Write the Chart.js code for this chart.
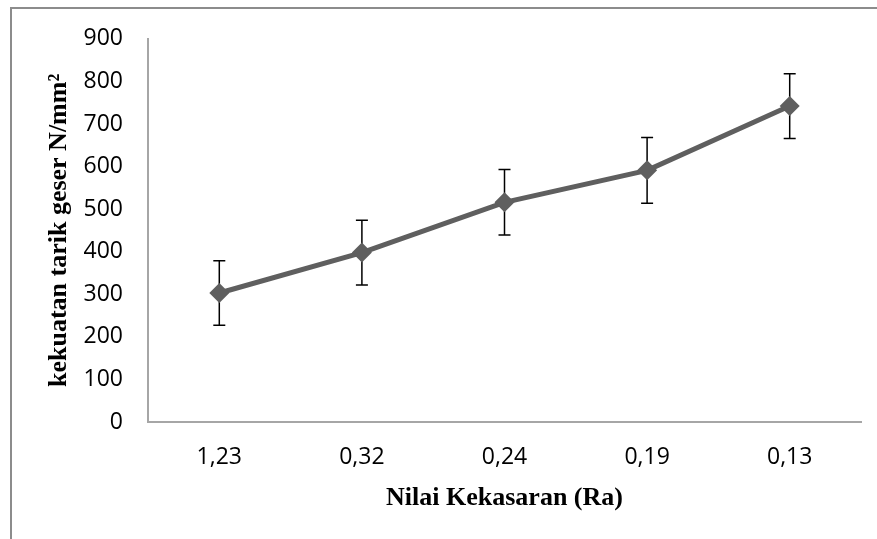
<!DOCTYPE html>
<html>
<head>
<meta charset="utf-8">
<script src="https://cdn.jsdelivr.net/npm/chart.js@4.4.1/dist/chart.umd.min.js"></script>
<style>
    html, body { margin: 0; padding: 0; background: #fff; }
    #wrap { position: relative; width: 877px; height: 539px; overflow: hidden; }
    #frame {
        position: absolute; left: 10px; top: 7px; width: 2000px; height: 2000px;
        border-top: 2px solid #8c8c8c; border-left: 2px solid #8c8c8c;
    }
    canvas { position: absolute; left: 0; top: 0; }
</style>
</head>
<body>
<div id="wrap">
    <div id="frame"></div>
    <canvas id="myChart" width="877" height="539"></canvas>
</div>
<script>
// Dados do gráfico
const kategori = ['1,23', '0,32', '0,24', '0,19', '0,13'];
const kekuatan = [303, 398, 516, 591, 742];
const galat = [76, 76, 77, 77, 76];
const yTicks = [0, 100, 200, 300, 400, 500, 600, 700, 800, 900];

// Plugin para desenhar as barras de erro
const errorBars = {
    id: 'errorBars',
    beforeDatasetsDraw(chart) {
        const ctx = chart.ctx;
        const x = chart.scales.x;
        const y = chart.scales.y;
        ctx.save();
        ctx.strokeStyle = '#000';
        ctx.lineWidth = 1.5;
        kekuatan.forEach(function (v, i) {
            const px = x.getPixelForValue(i);
            const top = y.getPixelForValue(v + galat[i]);
            const bot = y.getPixelForValue(v - galat[i]);
            ctx.beginPath();
            ctx.moveTo(px, top); ctx.lineTo(px, bot);
            ctx.moveTo(px - 6, top); ctx.lineTo(px + 6, top);
            ctx.moveTo(px - 6, bot); ctx.lineTo(px + 6, bot);
            ctx.stroke();
        });
        ctx.restore();
    }
};

const ctx = document.getElementById('myChart').getContext('2d');
new Chart(ctx, {
    type: 'line',
    data: {
        labels: kategori,
        datasets: [{
            data: kekuatan,
            borderColor: '#5f5f5f',
            backgroundColor: '#5f5f5f',
            borderWidth: 5,
            pointStyle: 'rectRot',
            pointRadius: 10,
            pointBorderWidth: 0,
            tension: 0
        }]
    },
    options: {
        responsive: false,
        animation: false,
        layout: { padding: { top: 38, right: 16, left: 0, bottom: 0 } },
        plugins: { legend: { display: false }, tooltip: { enabled: false } },
        scales: {
            x: {
                offset: true,
                grid: { display: false, drawTicks: false },
                border: { display: true, color: '#a6a6a6', width: 2 },
                ticks: { color: '#000', padding: 22, font: { family: 'Open Sans', size: 23 } },
                title: {
                    display: true,
                    text: 'Nilai Kekasaran (Ra)',
                    color: '#000',
                    font: { family: 'Liberation Serif', size: 26, weight: 'bold' },
                    padding: { top: 0, bottom: 25 }
                },
                afterFit: function (scale) { scale.height = 117; }
            },
            y: {
                min: 0,
                max: 900,
                grid: { display: false, drawTicks: false },
                border: { display: true, color: '#a6a6a6', width: 2 },
                afterBuildTicks: function (scale) {
                    scale.ticks = yTicks.map(function (v) { return { value: v }; });
                },
                ticks: { color: '#000', padding: 25, font: { family: 'Open Sans', size: 23 } },
                title: {
                    display: true,
                    text: 'kekuatan tarik geser N/mm²',
                    color: '#000',
                    font: { family: 'Liberation Serif', size: 26, weight: 'bold' },
                    padding: { top: 44, bottom: 0 }
                },
                afterFit: function (scale) { scale.width = 148; }
            }
        }
    },
    plugins: [errorBars]
});
</script>
</body>
</html>
